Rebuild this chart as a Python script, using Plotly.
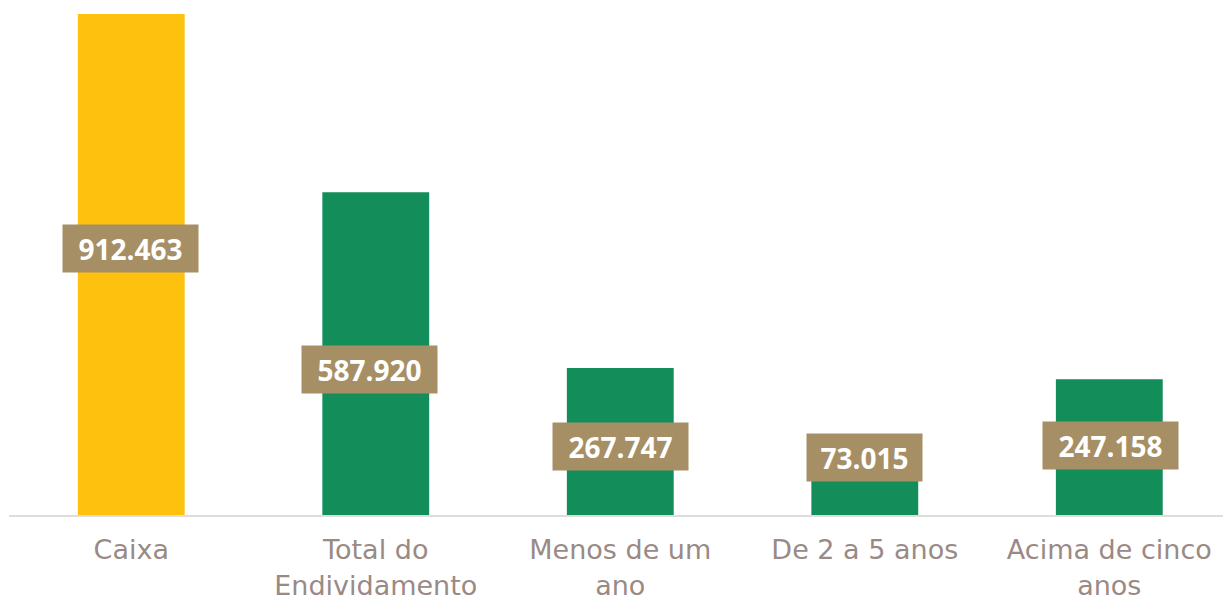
import plotly.graph_objects as go

categories = ["Caixa", "Total do<br>Endividamento", "Menos de um<br>ano", "De 2 a 5 anos", "Acima de cinco<br>anos"]
values = [912463, 587920, 267747, 73015, 247158]
value_labels = ["912.463", "587.920", "267.747", "73.015", "247.158"]

# style config (label placement in pixels above the axis, horizontal nudge, bar colors)
label_height_px = [267, 146, 69, 58, 70]
label_xshift_px = [-1, -6, 0, 0, 1]
bar_colors = ["#FEC10E", "#138D5A", "#138D5A", "#138D5A", "#138D5A"]

plot_h = 515
ymax = values[0] * plot_h / 501

fig = go.Figure()
fig.add_trace(go.Bar(
    x=categories, y=values,
    marker=dict(color=bar_colors, line=dict(width=0)),
    width=0.437,
    hoverinfo="skip",
))

for cat, lab, hpx, dx in zip(categories, value_labels, label_height_px, label_xshift_px):
    fig.add_annotation(
        x=cat, y=hpx * ymax / plot_h, text=f"<b>{lab}</b>",
        showarrow=False, xanchor="center", yanchor="middle", xshift=dx,
        bgcolor="#A68F65", font=dict(family="Open Sans", size=28, color="white"),
        width=20 * len(lab) - 5, height=47, borderpad=0,
    )

fig.update_layout(
    width=1223, height=596,
    margin=dict(l=9, r=0, t=0, b=81),
    paper_bgcolor="white", plot_bgcolor="white",
    showlegend=False,
    xaxis=dict(
        range=[-0.5, 4.465], showgrid=False, showline=True, automargin=False,
        linecolor="#E0DCDC", linewidth=2, ticks="",
        tickfont=dict(family="DejaVu Sans", size=27, color="#9A8A85"),
        ticklabelstandoff=10,
    ),
    yaxis=dict(range=[0, ymax], showgrid=False, showticklabels=False, zeroline=False,
               showline=False, automargin=False),
)

fig.write_html("out.html", config={"displayModeBar": False},
               post_script="document.body.style.margin='0';")
